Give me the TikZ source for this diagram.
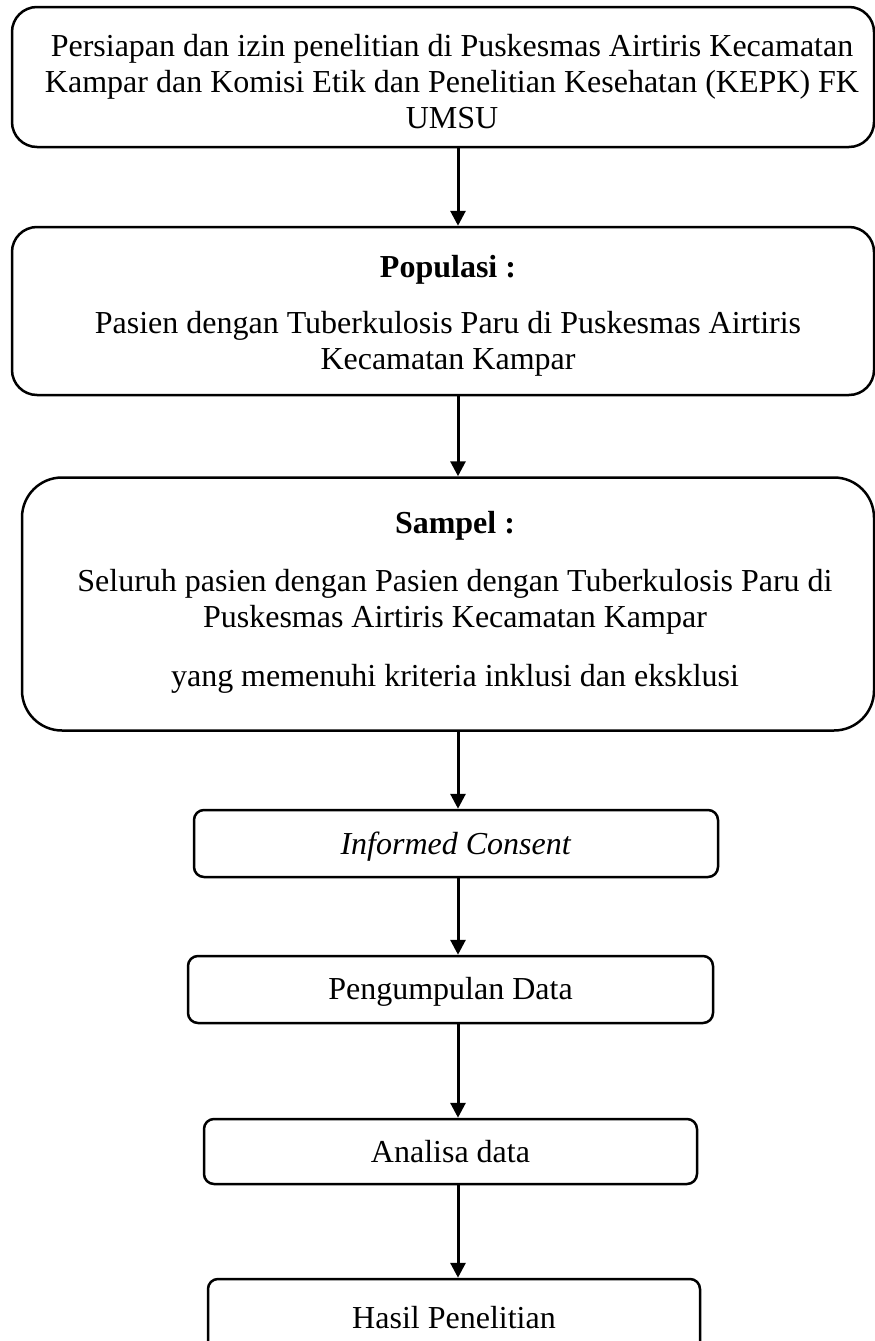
\documentclass[tikz,border=0pt]{standalone}
\usepackage{fontspec}
\setmainfont{Liberation Serif}
\usetikzlibrary{arrows.meta}

\tikzset{
  flowbox/.style={draw, line width=2.5pt, align=center, inner sep=0pt,
    font=\fontsize{32}{36}\selectfont},
  flowtext/.style={align=center, inner sep=0pt, font=\fontsize{32}{36}\selectfont},
  flowarrow/.style={-{Triangle[length=15pt, width=15pt]}, line width=3pt},
}

\begin{document}
\begin{tikzpicture}[x=1pt, y=-1pt]

% Page size, y runs downwards
\coordinate (page) at (875, 1341);
\clip (0,0) rectangle (page);

% x position of the flow line
\coordinate (axis) at (458, 0);

% Big boxes (text placed on its own, a bit right of the box centre)
\node[flowbox, rounded corners=25pt, minimum width=862pt, minimum height=140pt]
  (persiapan) at (443, 77) {};
\node[flowtext] (persiapan text) at (452, 82)
  {Persiapan dan izin penelitian di Puskesmas Airtiris Kecamatan\\
   Kampar dan Komisi Etik dan Penelitian Kesehatan (KEPK) FK\\
   UMSU};

\node[flowbox, rounded corners=25pt, minimum width=862pt, minimum height=168pt]
  (populasi) at (443, 311) {};
\node[flowtext] (populasi text) at (448, 316)
  {\textbf{Populasi :}\\[20pt]
   Pasien dengan Tuberkulosis Paru di Puskesmas Airtiris\\
   Kecamatan Kampar};

\node[flowbox, rounded corners=40pt, minimum width=852pt, minimum height=253pt]
  (sampel) at (448, 604) {};
\node[flowtext] (sampel text) at (455, 602)
  {\textbf{Sampel :}\\[22pt]
   Seluruh pasien dengan Pasien dengan Tuberkulosis Paru di\\
   Puskesmas Airtiris Kecamatan Kampar\\[23pt]
   yang memenuhi kriteria inklusi dan eksklusi};

% Small boxes
\node[flowbox, rounded corners=10pt, minimum width=524pt, minimum height=67pt]
  (consent) at (456, 843.5) {};
\node[flowtext] (consent text) at (456, 846.5) {\textit{Informed Consent}};

\node[flowbox, rounded corners=10pt, minimum width=525pt, minimum height=67pt]
  (pengumpulan) at (450.5, 989.5) {};
\node[flowtext] (pengumpulan text) at (450.5, 992) {Pengumpulan Data};

\node[flowbox, rounded corners=10pt, minimum width=493pt, minimum height=65pt]
  (analisa) at (450.5, 1151.5) {Analisa data};

\node[flowbox, rounded corners=10pt, minimum width=492pt, minimum height=78pt]
  (hasil) at (454, 1318) {Hasil Penelitian};

% Arrows
\draw[flowarrow] (persiapan.south -| axis) -- (populasi.north -| axis);
\draw[flowarrow] (populasi.south -| axis) -- (sampel.north -| axis);
\draw[flowarrow] (sampel.south -| axis) -- (consent.north -| axis);
\draw[flowarrow] (consent.south -| axis) -- (pengumpulan.north -| axis);
\draw[flowarrow] (pengumpulan.south -| axis) -- (analisa.north -| axis);
\draw[flowarrow] (analisa.south -| axis) -- (hasil.north -| axis);

\end{tikzpicture}
\end{document}
